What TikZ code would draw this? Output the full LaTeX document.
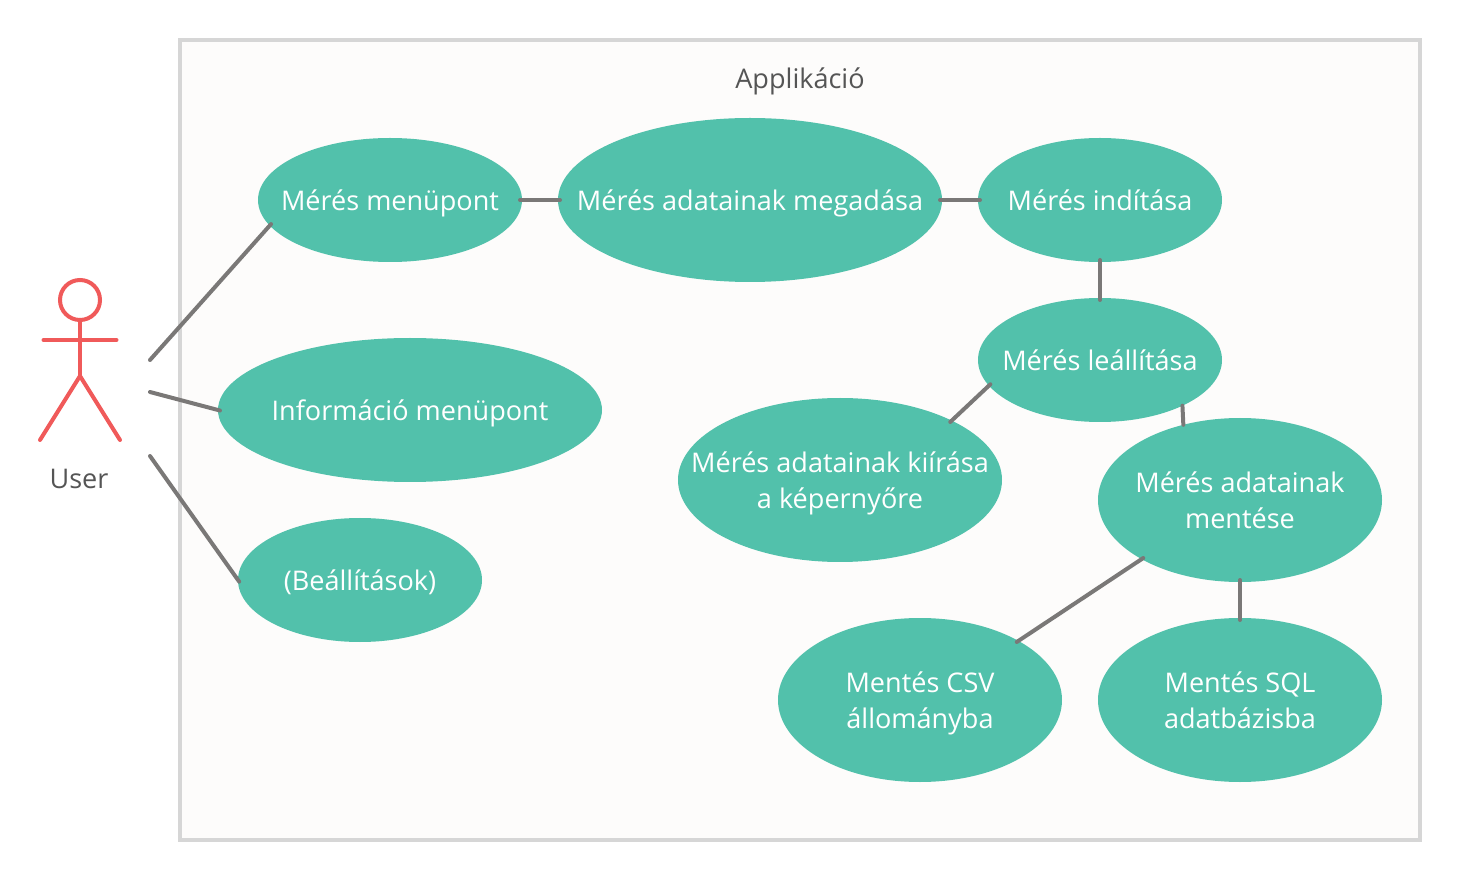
\documentclass[tikz,border=0pt]{standalone}
\usepackage{fontspec}
\setmainfont{Open Sans}
\usetikzlibrary{shapes.geometric}
\definecolor{teal1}{HTML}{52C1AB}
\definecolor{frameg}{HTML}{D6D6D6}
\definecolor{bgc}{HTML}{FDFCFB}
\definecolor{linkg}{HTML}{7A7877}
\definecolor{redc}{HTML}{F05A5A}
\definecolor{txt}{HTML}{555555}
\newcommand{\uct}[1]{\smash{\makebox[0pt][c]{\raisebox{-8pt}{\begin{tabular}{@{}c@{}}#1\end{tabular}}}}}
\tikzset{x=0.75pt,y=-0.75pt,
 uc/.style={ellipse,fill=teal1,draw=none,inner sep=0pt,outer sep=0pt,text=white,font=\fontsize{20.3pt}{27pt}\selectfont},
 link/.style={draw=linkg,line width=3pt,line cap=round,shorten <=-1.5pt,shorten >=-1.5pt},
 freelink/.style={draw=linkg,line width=3pt,line cap=round,shorten >=-1.5pt},
 actor/.style={draw=redc,line width=3pt,line cap=round},
 lab/.style={text=txt,font=\fontsize{20.3pt}{27pt}\selectfont,inner sep=0pt}}
\begin{document}
\begin{tikzpicture}
\useasboundingbox (0,0) rectangle (1461,880);
\fill[white] (0,0) rectangle (1461,880);
\draw[draw=frameg,fill=bgc,line width=3.2pt] (180,40) rectangle (1420,840);
\node[lab] (title) at (800,81) {Applikáció};
\coordinate (a1) at (150,360);
\coordinate (a2) at (150,392);
\coordinate (a3) at (150,456);
\node[uc,minimum width=198pt,minimum height=93pt] (n1) at (390,200) {\uct{Mérés menüpont}};
\node[uc,minimum width=288pt,minimum height=123pt] (n2) at (750,200) {\uct{Mérés adatainak megadása}};
\node[uc,minimum width=183pt,minimum height=93pt] (n3) at (1100,200) {\uct{Mérés indítása}};
\node[uc,minimum width=183pt,minimum height=93pt] (n4) at (1100,360) {\uct{Mérés leállítása}};
\node[uc,minimum width=288pt,minimum height=108pt] (n5) at (410,410) {\uct{Információ menüpont}};
\node[uc,minimum width=183pt,minimum height=93pt] (n6) at (360,580) {\uct{(Beállítások)}};
\node[uc,minimum width=243pt,minimum height=123pt] (n7) at (840,480) {\uct{Mérés adatainak kiírása\\a képernyőre}};
\node[uc,minimum width=213pt,minimum height=123pt] (n8) at (1240,500) {\uct{Mérés adatainak\\mentése}};
\node[uc,minimum width=213pt,minimum height=123pt] (n9) at (920,700) {\uct{Mentés CSV\\állományba}};
\node[uc,minimum width=213pt,minimum height=123pt] (n10) at (1240,700) {\uct{Mentés SQL\\adatbázisba}};
\draw[freelink] (a1) -- (n1.192);
\draw[freelink] (a2) -- (n5.west);
\draw[freelink] (a3) -- (n6.west);
\draw[link] (n1.east) -- (n2.west);
\draw[link] (n2.east) -- (n3.west);
\draw[link] (n3.south) -- (n4.north);
\draw[link] (n4.193.7) -- (n7.28.5);
\draw[link,shorten <=0pt,shorten >=0pt] (n4.-29) -- (n8.127.1);
\draw[link] (n8.211) -- (n9.31.4);
\draw[link] (n8.south) -- (n10.north);
\draw[actor] (80,300) circle[radius=20];
\draw[actor] (80,320) -- (80,376);
\draw[actor] (43.5,340) -- (116.5,340);
\draw[actor,line join=round] (40,440) -- (80,376) -- (120,440);
\node[lab] (user) at (79,479) {User};
\end{tikzpicture}
\end{document}
